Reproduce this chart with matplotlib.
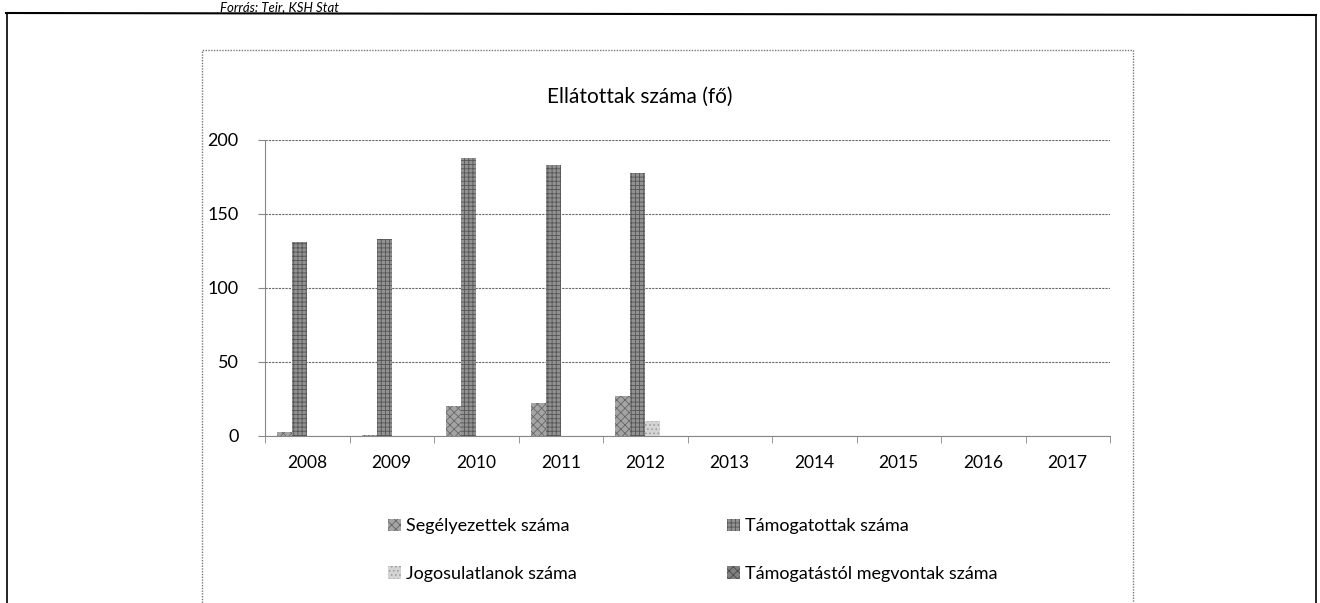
import matplotlib.pyplot as plt
from matplotlib.patches import Rectangle
from matplotlib.lines import Line2D
import numpy as np

plt.rcParams['font.family'] = ['Lato', 'DejaVu Sans']
plt.rcParams['hatch.linewidth'] = 0.6

years = ['2008', '2009', '2010', '2011', '2012', '2013', '2014', '2015', '2016', '2017']
segelyezettek = [3, 1, 20, 22, 27, 0, 0, 0, 0, 0]
tamogatottak = [131, 133, 188, 183, 178, 0, 0, 0, 0, 0]
jogosulatlanok = [0, 0, 0, 0, 10, 0, 0, 0, 0, 0]
megvontak = [0, 0, 0, 0, 0, 0, 0, 0, 0, 0]
names = ['Segélyezettek száma', 'Támogatottak száma',
         'Jogosulatlanok száma', 'Támogatástól megvontak száma']

fig = plt.figure(figsize=(13.2, 6.03), dpi=100)
W, H = 1320, 603

def fx(px):
    return px / W

def fy(py):
    return 1 - py / H

ax = fig.add_axes([fx(265), fy(436), fx(1110) - fx(265), fy(140) - fy(436)])

x = np.arange(len(years))
w = 0.178
styles = [
    dict(color='#a4a4a4', hatch='xxxx', edgecolor='#666666'),
    dict(color='#929292', hatch='++++', edgecolor='#555555'),
    dict(color='#d4d4d4', hatch='....', edgecolor='#999999'),
    dict(color='#808080', hatch='xxxx', edgecolor='#4a4a4a'),
]
series = [segelyezettek, tamogatottak, jogosulatlanok, megvontak]
bars = []
for i, (vals, st) in enumerate(zip(series, styles)):
    b = ax.bar(x + (i - 1.5) * w, vals, w, facecolor=st['color'],
               hatch=st['hatch'], edgecolor=st['edgecolor'], linewidth=0,
               label=names[i], zorder=3)
    bars.append(b)

ax.set_xlim(-0.5, len(years) - 0.5)
ax.set_ylim(0, 200)
ax.set_yticks([0, 50, 100, 150, 200])
ax.set_xticks(x)
ax.set_xticklabels(years, fontsize=12.5)
ax.set_xticks(np.arange(len(years) + 1) - 0.5, minor=True)
ax.tick_params(axis='x', which='major', length=0, pad=14)
ax.tick_params(axis='x', which='minor', length=5, color='#888888', direction='out')
ax.tick_params(axis='y', length=5, color='#888888', labelsize=13, pad=14)
ax.grid(axis='y', linestyle=(0, (2, 1)), color='#666666', linewidth=0.8, zorder=0)
for s in ['top', 'right']:
    ax.spines[s].set_visible(False)
for s in ['left', 'bottom']:
    ax.spines[s].set_linestyle((0, (1, 1)))
    ax.spines[s].set_color('#888888')

fig.text(fx(640), fy(97), 'Ellátottak száma (fő)', ha='center', va='center', fontsize=15)

handles = [bars[0], bars[2], bars[1], bars[3]]
labels = [names[0], names[2], names[1], names[3]]
fig.legend(handles, labels, ncol=2, loc='upper left',
           bbox_to_anchor=(fx(372), fy(502)), frameon=False, fontsize=13,
           handlelength=0.7, handleheight=0.7, handletextpad=0.3,
           columnspacing=8.3, labelspacing=1.75)

# chart box and page frame
fig.add_artist(Rectangle((fx(202), fy(610)), fx(1133) - fx(202), fy(50) - fy(610),
                         transform=fig.transFigure, fill=False,
                         linestyle=(0, (1, 1)), edgecolor='#777777', linewidth=1))
fig.add_artist(Line2D([fx(6), fx(1316)], [fy(13), fy(15)], transform=fig.transFigure,
                      color='black', linewidth=1.5))
fig.add_artist(Line2D([fx(7), fx(7)], [fy(13), fy(603)], transform=fig.transFigure,
                      color='black', linewidth=1.2))
fig.add_artist(Line2D([fx(1316), fx(1316)], [fy(15), fy(603)], transform=fig.transFigure,
                      color='black', linewidth=1.2))
fig.text(fx(220), fy(1), 'Forrás: Teir, KSH Stat', ha='left', va='top',
         fontsize=9.5, style='italic')

fig.savefig('out.png', dpi=100)
